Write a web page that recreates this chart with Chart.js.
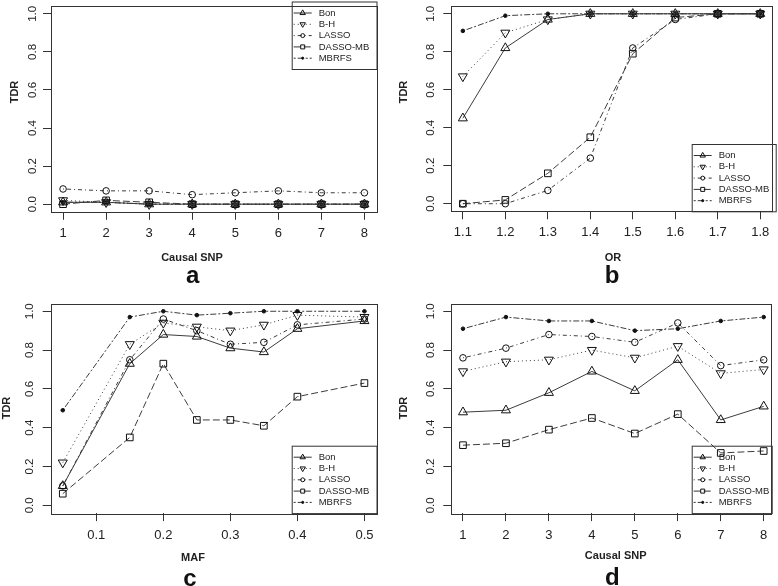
<!DOCTYPE html>
<html>
<head>
<meta charset="utf-8">
<script src="https://cdn.jsdelivr.net/npm/chart.js@4.4.1/dist/chart.umd.min.js"></script>
<style>
  html, body { margin: 0; padding: 0; background: #fff; }
  #wrap { position: relative; width: 778px; height: 586px; }
  .panel { position: absolute; width: 389px; height: 293px; }
</style>
</head>
<body>
<div id="wrap">
  <div class="panel" style="left:0;top:0"><canvas id="pa"></canvas></div>
  <div class="panel" style="left:389px;top:0"><canvas id="pb"></canvas></div>
  <div class="panel" style="left:0;top:293px"><canvas id="pc"></canvas></div>
  <div class="panel" style="left:389px;top:293px"><canvas id="pd"></canvas></div>
</div>
<script>
const methods = ["Bon", "B-H", "LASSO", "DASSO-MB", "MBRFS"];
const yTicks = [0, 0.2, 0.4, 0.6, 0.8, 1.0];

// a: TDR vs causal SNP
const snpA = [1, 2, 3, 4, 5, 6, 7, 8];
const bonA = [0.01, 0.01, 0, 0, 0, 0, 0, 0];
const bhA = [0.02, 0.01, 0, 0, 0, 0, 0, 0];
const lassoA = [0.08, 0.07, 0.07, 0.05, 0.06, 0.07, 0.06, 0.06];
const dassoA = [0, 0.02, 0.01, 0, 0, 0, 0, 0];
const mbrfsA = [0.01, 0.01, 0, 0, 0, 0, 0, 0];

// b: TDR vs OR
const orB = [1.1, 1.2, 1.3, 1.4, 1.5, 1.6, 1.7, 1.8];
const bonB = [0.45, 0.82, 0.97, 1, 1, 1, 1, 1];
const bhB = [0.67, 0.90, 0.97, 1, 1, 1, 1, 1];
const lassoB = [0, 0, 0.07, 0.24, 0.82, 0.97, 1, 1];
const dassoB = [0, 0.02, 0.16, 0.35, 0.79, 0.98, 1, 1];
const mbrfsB = [0.91, 0.99, 1, 1, 1, 1, 1, 1];

// c: TDR vs MAF
const mafC = [0.05, 0.15, 0.2, 0.25, 0.3, 0.35, 0.4, 0.5];
const bonC = [0.10, 0.73, 0.88, 0.87, 0.81, 0.79, 0.91, 0.95];
const bhC = [0.22, 0.83, 0.94, 0.92, 0.90, 0.93, 0.98, 0.97];
const lassoC = [0.10, 0.75, 0.96, 0.90, 0.83, 0.84, 0.93, 0.96];
const dassoC = [0.06, 0.35, 0.73, 0.44, 0.44, 0.41, 0.56, 0.63];
const mbrfsC = [0.49, 0.97, 1.0, 0.98, 0.99, 1.0, 1.0, 1.0];

// d: TDR vs causal SNP
const snpD = [1, 2, 3, 4, 5, 6, 7, 8];
const bonD = [0.48, 0.49, 0.58, 0.69, 0.59, 0.75, 0.44, 0.51];
const bhD = [0.69, 0.74, 0.75, 0.80, 0.76, 0.82, 0.68, 0.70];
const lassoD = [0.76, 0.81, 0.88, 0.87, 0.84, 0.94, 0.72, 0.75];
const dassoD = [0.31, 0.32, 0.39, 0.45, 0.37, 0.47, 0.27, 0.28];
const mbrfsD = [0.91, 0.97, 0.95, 0.95, 0.90, 0.91, 0.95, 0.97];

const FONT = "'Liberation Sans', Arial, sans-serif";
const INK = "#222";

// R-like line types and plotting symbols
const styles = [
  { point: "triangle", rot: 0, r: 5.2, dash: [] },
  { point: "triangle", rot: 180, r: 5.2, dash: [1, 3] },
  { point: "circle", rot: 0, r: 3.3, dash: [1, 3, 4, 3] },
  { point: "rect", rot: 0, r: 4.7, dash: [7, 3] },
  { point: "circle", rot: 0, r: 1.8, dash: [2, 2, 6, 2], fill: true }
];

function drawMarker(ctx, k, x, y, scale) {
  const st = styles[k];
  ctx.save();
  ctx.setLineDash([]);
  ctx.strokeStyle = "#111";
  ctx.fillStyle = st.fill ? "#111" : "rgba(0,0,0,0)";
  ctx.lineWidth = 1;
  Chart.helpers.drawPoint(ctx, { pointStyle: st.point, rotation: st.rot, radius: st.r * scale, borderWidth: 1 }, x, y);
  ctx.restore();
}

function makePanel(p) {
  const rPlugin = {
    id: "rstyle",
    beforeDatasetsDraw(chart) {
      const ctx = chart.ctx;
      const lg = p.legend;
      ctx.save();
      ctx.strokeStyle = "#333";
      ctx.lineWidth = 1;
      ctx.strokeRect(lg.l + 0.5, lg.t + 0.5, lg.r - lg.l, lg.b - lg.t);
      ctx.font = "9.5px " + FONT;
      ctx.fillStyle = INK;
      ctx.textBaseline = "middle";
      methods.forEach((m, k) => {
        const y = lg.t + 11.5 + k * 11.3;
        ctx.strokeStyle = "#333";
        ctx.setLineDash(styles[k].dash);
        ctx.beginPath();
        ctx.moveTo(lg.l + 2, y);
        ctx.lineTo(lg.l + 20, y);
        ctx.stroke();
        drawMarker(ctx, k, lg.l + 11, y, 0.6);
        ctx.fillText(m, lg.l + 27, y);
      });
      ctx.restore();
    },
    afterDraw(chart) {
      const ctx = chart.ctx;
      const a = chart.chartArea;
      const ys = chart.scales.y;
      ctx.save();
      ctx.strokeStyle = "#333";
      ctx.lineWidth = 1;
      ctx.strokeRect(Math.round(a.left) + 0.5, Math.round(a.top) + 0.5,
        Math.round(a.right - a.left), Math.round(a.bottom - a.top));
      ctx.fillStyle = INK;
      ctx.textAlign = "center";
      ctx.textBaseline = "middle";
      ctx.font = "11.5px " + FONT;
      yTicks.forEach(v => {
        ctx.save();
        ctx.translate(p.yLabX, ys.getPixelForValue(v));
        ctx.rotate(-Math.PI / 2);
        ctx.fillText(v.toFixed(1), 0, 0);
        ctx.restore();
      });
      ctx.font = "bold 11px " + FONT;
      ctx.save();
      ctx.translate(p.tdr.x, p.tdr.y);
      ctx.rotate(-Math.PI / 2);
      ctx.fillText("TDR", 0, 0);
      ctx.restore();
      ctx.fillText(p.xTitle, p.xTitlePos.x, p.xTitlePos.y);
      ctx.font = "bold 24px " + FONT;
      ctx.fillStyle = "#111";
      ctx.fillText(p.letter, p.letterPos.x, p.letterPos.y);
      ctx.restore();
    }
  };

  new Chart(document.getElementById(p.id), {
    type: "scatter",
    data: {
      datasets: methods.map((m, k) => ({
        label: m,
        data: p.xs.map((x, i) => ({ x: x, y: p.series[k][i] })),
        showLine: true,
        borderColor: "#3c3c3c",
        borderWidth: 1,
        borderDash: styles[k].dash,
        pointStyle: styles[k].point,
        rotation: styles[k].rot,
        pointRadius: styles[k].r,
        pointBorderColor: "#111",
        pointBackgroundColor: styles[k].fill ? "#111" : "rgba(0,0,0,0)",
        pointBorderWidth: 1,
        tension: 0,
        clip: 5
      }))
    },
    options: {
      animation: false,
      responsive: true,
      maintainAspectRatio: false,
      layout: { padding: { left: 0, top: p.area.t, right: 389 - p.area.r, bottom: 0 } },
      plugins: { legend: { display: false }, tooltip: { enabled: false } },
      scales: {
        x: {
          type: "linear",
          min: p.xMin,
          max: p.xMax,
          afterBuildTicks: s => { s.ticks = p.xTicks.map(v => ({ value: v })); },
          afterFit: s => { s.height = 293 - p.area.b; s.paddingLeft = 0; s.paddingRight = 0; },
          grid: { drawOnChartArea: false, drawTicks: true, tickLength: 8, color: "#333", tickColor: "#333" },
          border: { display: false },
          ticks: {
            padding: p.xPad,
            color: INK,
            autoSkip: false,
            maxRotation: 0,
            font: { family: FONT, size: 13 },
            callback: v => p.fmt(v)
          }
        },
        y: {
          type: "linear",
          min: -0.04,
          max: 1.04,
          afterBuildTicks: s => { s.ticks = yTicks.map(v => ({ value: v })); },
          afterFit: s => { s.width = p.area.l; s.paddingTop = 0; s.paddingBottom = 0; },
          grid: { drawOnChartArea: false, drawTicks: true, tickLength: 8, color: "#333", tickColor: "#333" },
          border: { display: false },
          ticks: { display: false }
        }
      }
    },
    plugins: [rPlugin]
  });
}

const intFmt = v => String(v);
const oneFmt = v => v.toFixed(1);

makePanel({
  id: "pa", xs: snpA, series: [bonA, bhA, lassoA, dassoA, mbrfsA],
  xMin: 0.72, xMax: 8.28, xTicks: snpA, fmt: intFmt,
  area: { l: 51, t: 1.5, r: 376.5, b: 211.8 }, xPad: 5.7,
  yLabX: 33.3, tdr: { x: 15, y: 92 },
  xTitle: "Causal SNP", xTitlePos: { x: 192, y: 258.3 },
  letter: "a", letterPos: { x: 192.7, y: 276.7 },
  legend: { l: 291.7, t: 1.5, r: 376.5, b: 69 }
});

makePanel({
  id: "pb", xs: orB, series: [bonB, bhB, lassoB, dassoB, mbrfsB],
  xMin: 1.0728, xMax: 1.8272, xTicks: orB, fmt: oneFmt,
  area: { l: 62.3, t: 1.5, r: 386.7, b: 211.3 }, xPad: 5.6,
  yLabX: 41.7, tdr: { x: 15, y: 92 },
  xTitle: "OR", xTitlePos: { x: 224, y: 258.3 },
  letter: "b", letterPos: { x: 223, y: 276.7 },
  legend: { l: 302.7, t: 144, r: 386.7, b: 211.3 }
});

makePanel({
  id: "pc", xs: mafC, series: [bonC, bhC, lassoC, dassoC, mbrfsC],
  xMin: 0.032, xMax: 0.518, xTicks: [0.1, 0.2, 0.3, 0.4, 0.5], fmt: oneFmt,
  area: { l: 50.7, t: 10.5, r: 376.5, b: 220.1 }, xPad: 6.8,
  yLabX: 30, tdr: { x: 7, y: 115 },
  xTitle: "MAF", xTitlePos: { x: 193, y: 265 },
  letter: "c", letterPos: { x: 190, y: 286.7 },
  legend: { l: 291.7, t: 152.7, r: 376.5, b: 220.1 }
});

makePanel({
  id: "pd", xs: snpD, series: [bonD, bhD, lassoD, dassoD, mbrfsD],
  xMin: 0.728, xMax: 8.186, xTicks: snpD, fmt: intFmt,
  area: { l: 62.3, t: 10.5, r: 382.7, b: 220.1 }, xPad: 6.8,
  yLabX: 41.7, tdr: { x: 15, y: 115 },
  xTitle: "Causal SNP", xTitlePos: { x: 226.7, y: 263.3 },
  letter: "d", letterPos: { x: 223.3, y: 285 },
  legend: { l: 302.7, t: 152.7, r: 382.7, b: 220.1 }
});
</script>
</body>
</html>
